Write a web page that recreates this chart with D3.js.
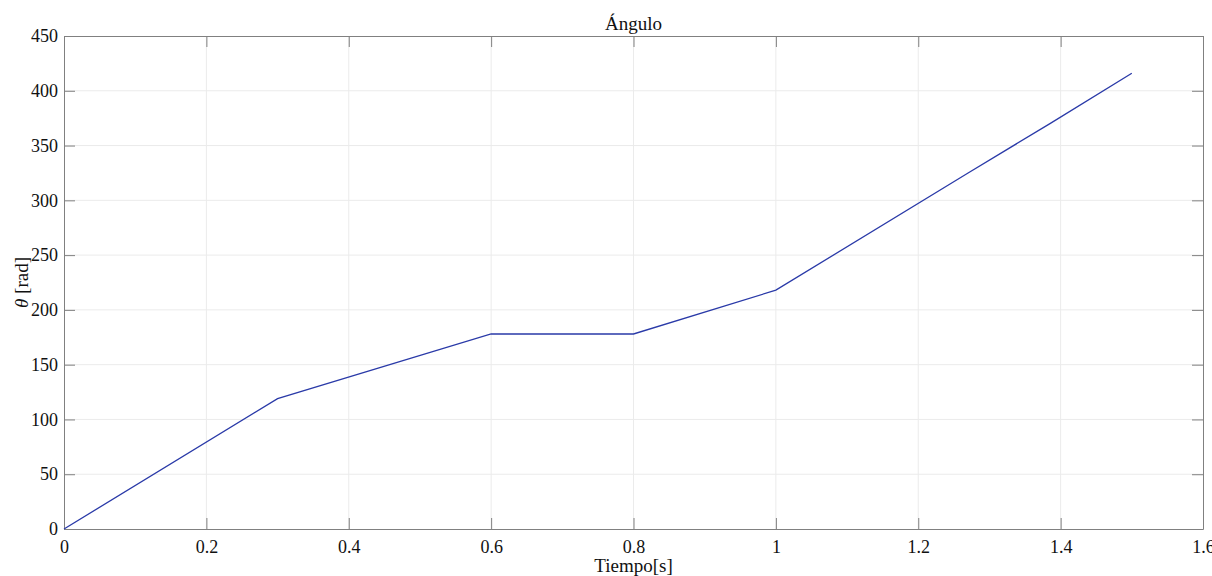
<!DOCTYPE html>
<html>
<head>
<meta charset="utf-8">
<script src="https://cdn.jsdelivr.net/npm/d3@7"></script>
<style>
  html, body { margin: 0; padding: 0; background: #fff; }
  svg text { font-family: "Liberation Serif", "Times New Roman", serif !important; fill: #111; }
</style>
</head>
<body>
<svg id="chart" width="1212" height="576"></svg>
<script>
// Angle vs. time samples
const tiempo = [0, 0.3, 0.6, 0.8, 1.0, 1.27, 1.385, 1.5];
const angulo = [0, 119, 178, 178, 218, 325, 370, 416];

const xTicks = [0, 0.2, 0.4, 0.6, 0.8, 1, 1.2, 1.4, 1.6];
const yTicks = [0, 50, 100, 150, 200, 250, 300, 350, 400, 450];

const titulo = "Ángulo";
const etiquetaX = "Tiempo[s]";

const W = 1212, H = 576;
const m = { left: 64, right: 9, top: 36, bottom: 47 };
const iw = W - m.left - m.right, ih = H - m.top - m.bottom;

const svg = d3.select("#chart");
const g = svg.append("g").attr("transform", `translate(${m.left},${m.top})`);

const x = d3.scaleLinear().domain([0, 1.6]).range([0, iw]);
const y = d3.scaleLinear().domain([0, 450]).range([ih, 0]);

// grid
g.append("g").selectAll("line").data(xTicks.slice(1, -1)).join("line")
  .attr("x1", d => x(d)).attr("x2", d => x(d)).attr("y1", 0).attr("y2", ih)
  .attr("stroke", "#ebebeb").attr("stroke-width", 1);
g.append("g").selectAll("line").data(yTicks.slice(1, -1)).join("line")
  .attr("y1", d => y(d)).attr("y2", d => y(d)).attr("x1", 0).attr("x2", iw)
  .attr("stroke", "#ebebeb").attr("stroke-width", 1);

// axes with inward ticks on all four sides
const tickLen = 11;
function styleAxis(sel) {
  sel.attr("font-family", null).attr("font-size", null);
  sel.select(".domain").attr("stroke", "#808080");
  sel.selectAll(".tick line").attr("stroke", "#808080");
  sel.selectAll("text").style("font-size", "18px").attr("fill", "#111");
}
const fmt = d => d3.format("~g")(d);

g.append("g").attr("transform", `translate(0,${ih})`)
  .call(d3.axisBottom(x).tickValues(xTicks).tickFormat(fmt).tickSizeInner(-tickLen).tickSizeOuter(0).tickPadding(11))
  .call(styleAxis);
g.append("g")
  .call(d3.axisTop(x).tickValues(xTicks).tickFormat("").tickSizeInner(-tickLen).tickSizeOuter(0))
  .call(styleAxis);
g.append("g")
  .call(d3.axisLeft(y).tickValues(yTicks).tickFormat(fmt).tickSizeInner(-tickLen).tickSizeOuter(0).tickPadding(6))
  .call(styleAxis);
g.append("g").attr("transform", `translate(${iw},0)`)
  .call(d3.axisRight(y).tickValues(yTicks).tickFormat("").tickSizeInner(-tickLen).tickSizeOuter(0))
  .call(styleAxis);

// data line
const line = d3.line().x((d, i) => x(tiempo[i])).y(d => y(d));
g.append("path").datum(angulo)
  .attr("d", line)
  .attr("fill", "none")
  .attr("stroke", "#2a3aa8")
  .attr("stroke-width", 1.3);

// title & labels
svg.append("text").attr("x", m.left + iw / 2).attr("y", 30)
  .attr("text-anchor", "middle").style("font-size", "19px").text(titulo);

svg.append("text").attr("x", m.left + iw / 2).attr("y", 572)
  .attr("text-anchor", "middle").style("font-size", "19px").text(etiquetaX);

const yl = svg.append("text")
  .attr("transform", `translate(28,${m.top + ih / 2}) rotate(-90)`)
  .attr("text-anchor", "middle").style("font-size", "19px");
yl.append("tspan").attr("font-style", "italic").text("θ");
yl.append("tspan").text(" [rad]");
</script>
</body>
</html>
